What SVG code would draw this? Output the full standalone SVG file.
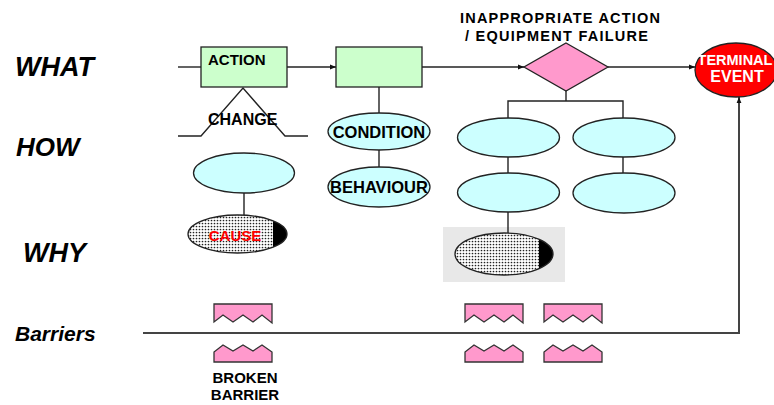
<svg xmlns="http://www.w3.org/2000/svg" width="774" height="405" viewBox="0 0 774 405">
  <style>
    .row { font-family: "Liberation Sans", Arial, sans-serif; font-weight: bold; font-style: italic; fill: #000; }
    .lbl { font-family: "Liberation Sans", Arial, sans-serif; font-weight: bold; fill: #000; }
    .box { fill: #ccffcc; stroke: #222; stroke-width: 1.3; }
    .ell { fill: #ccffff; stroke: #222; stroke-width: 1.3; }
    .bar { fill: #ff99cc; stroke: #333; stroke-width: 1.3; stroke-linejoin: miter; }
    .ln { fill: none; stroke: #222; stroke-width: 1.4; }
    .lnb { fill: none; stroke: #444; stroke-width: 2; }
  </style>
  <defs>
    <marker id="arr" viewBox="0 0 10 10" refX="10" refY="5" markerWidth="6" markerHeight="6" orient="auto" markerUnits="userSpaceOnUse">
      <path d="M0,1 L10,5 L0,9 z" fill="#111"/>
    </marker>
    <pattern id="dots" width="3" height="3" patternUnits="userSpaceOnUse">
      <rect width="3" height="3" fill="#fff"/>
      <circle cx="1.5" cy="1.5" r="0.85" fill="#222"/>
    </pattern>
    <clipPath id="capL"><rect x="273" y="200" width="30" height="60"/></clipPath>
    <clipPath id="capR"><rect x="539" y="225" width="30" height="60"/></clipPath>
  </defs>

  <rect width="774" height="405" fill="#fff"/>

  <!-- row labels -->
  <g id="row-labels">
    <text class="row" x="15" y="76" font-size="27">WHAT</text>
    <text class="row" x="16" y="156" font-size="26">HOW</text>
    <text class="row" x="23" y="262" font-size="27">WHY</text>
    <text class="row" x="15" y="341" font-size="21">Barriers</text>
  </g>

  <!-- connectors -->
  <g id="connectors">
    <line class="ln" x1="178" y1="67" x2="201" y2="67"/>
    <line class="ln" x1="287" y1="67" x2="336" y2="67" marker-end="url(#arr)"/>
    <line class="ln" x1="422" y1="67" x2="524" y2="67" marker-end="url(#arr)"/>
    <line class="ln" x1="608" y1="67" x2="695" y2="67" marker-end="url(#arr)"/>
    <!-- change symbol -->
    <polyline class="ln" points="178,136 201,136 243,88 285,136 308,136" stroke="#555"/>
    <line class="ln" x1="244" y1="193" x2="244" y2="215"/>
    <line class="ln" x1="379" y1="87" x2="379" y2="113"/>
    <line class="ln" x1="379" y1="150" x2="379" y2="167"/>
    <polyline class="ln" points="566,91 566,101"/>
    <polyline class="ln" points="508,118 508,101 623,101 623,118"/>
    <line class="ln" x1="508" y1="157" x2="508" y2="173"/>
    <line class="ln" x1="623" y1="157" x2="623" y2="173"/>
    <!-- barriers line to terminal event -->
    <polyline class="lnb" points="143,333 739,333 739,97" marker-end="url(#arr)"/>
  </g>

  <!-- WHAT row -->
  <g id="action">
    <rect class="box" x="201" y="47" width="86" height="40"/>
    <text class="lbl" x="208" y="65" font-size="15">ACTION</text>
  </g>
  <g id="action-2">
    <rect class="box" x="336" y="47" width="86" height="40"/>
  </g>
  <g id="failure">
    <polygon points="566,43 608,67 566,91 524,67" fill="#ff99cc" stroke="#222" stroke-width="1.3"/>
    <text class="lbl" x="460" y="23" font-size="14.5" textLength="200">INAPPROPRIATE  ACTION</text>
    <text class="lbl" x="465" y="41" font-size="14.5" textLength="183">/ EQUIPMENT  FAILURE</text>
  </g>
  <g id="terminal-event">
    <ellipse cx="736" cy="70" rx="41" ry="27" fill="#ff0000" stroke="#222" stroke-width="1.3"/>
    <text class="lbl" x="735" y="65" font-size="14.5" style="fill:#fff" text-anchor="middle">TERMINAL</text>
    <text class="lbl" x="737" y="82" font-size="16" style="fill:#fff" text-anchor="middle">EVENT</text>
  </g>

  <!-- HOW row -->
  <g id="change">
    <text class="lbl" x="208" y="125" font-size="16">CHANGE</text>
  </g>
  <g id="how-1">
    <ellipse class="ell" cx="244" cy="173" rx="50.5" ry="20"/>
  </g>
  <g id="condition">
    <ellipse class="ell" cx="379" cy="131.5" rx="51" ry="18.5"/>
    <text class="lbl" x="379" y="138" font-size="16.5" text-anchor="middle">CONDITION</text>
  </g>
  <g id="behaviour">
    <ellipse class="ell" cx="379" cy="187" rx="51" ry="20"/>
    <text class="lbl" x="379" y="193" font-size="16.5" text-anchor="middle">BEHAVIOUR</text>
  </g>
  <g id="how-2">
    <ellipse class="ell" cx="508.5" cy="137.5" rx="51" ry="19.5"/>
  </g>
  <g id="how-3">
    <ellipse class="ell" cx="508.5" cy="192.5" rx="51" ry="19.5"/>
  </g>
  <g id="how-4">
    <ellipse class="ell" cx="624" cy="137.5" rx="51" ry="19.5"/>
  </g>
  <g id="how-5">
    <ellipse class="ell" cx="624" cy="193" rx="51" ry="20"/>
  </g>

  <!-- WHY row -->
  <g id="cause">
    <ellipse cx="237.5" cy="234" rx="49.5" ry="19" fill="url(#dots)"/>
    <ellipse cx="237.5" cy="234" rx="49.5" ry="19" fill="#000" clip-path="url(#capL)"/>
    <ellipse cx="237.5" cy="234" rx="49.5" ry="19" fill="none" stroke="#222" stroke-width="1.3"/>
    <text class="lbl" x="235" y="241" font-size="15" style="fill:#ff0000" text-anchor="middle">CAUSE</text>
  </g>
  <g id="cause-2">
    <rect x="443" y="227" width="122" height="55" fill="#e8e8e8"/>
    <ellipse cx="504" cy="254" rx="49" ry="21" fill="url(#dots)"/>
    <ellipse cx="504" cy="254" rx="49" ry="21" fill="#000" clip-path="url(#capR)"/>
    <ellipse cx="504" cy="254" rx="49" ry="21" fill="none" stroke="#222" stroke-width="1.3"/>
  </g>
  <g id="cause-link">
    <line class="ln" x1="508" y1="212" x2="508" y2="233"/>
  </g>

  <!-- barriers -->
  <g id="barrier-1">
    <polygon class="bar" points="214,304 272,304 272,323 262,315 253,322 243,315 233,322 223,315 214,322"/>
    <polygon class="bar" points="214,362 214,352 223,345 233,351 243,345 253,351 262,345 272,352 272,362"/>
    <text class="lbl" x="245" y="383" font-size="15" text-anchor="middle">BROKEN</text>
    <text class="lbl" x="245" y="400" font-size="15" text-anchor="middle">BARRIER</text>
  </g>
  <g id="barrier-2">
    <polygon class="bar" points="465,304 523,304 523,323 513,315 504,322 494,315 484,322 474,315 465,322"/>
    <polygon class="bar" points="465,362 465,352 474,345 484,351 494,345 504,351 513,345 523,352 523,362"/>
  </g>
  <g id="barrier-3">
    <polygon class="bar" points="544,304 602,304 602,323 592,315 583,322 573,315 563,322 553,315 544,322"/>
    <polygon class="bar" points="544,362 544,352 553,345 563,351 573,345 583,351 592,345 602,352 602,362"/>
  </g>
</svg>
